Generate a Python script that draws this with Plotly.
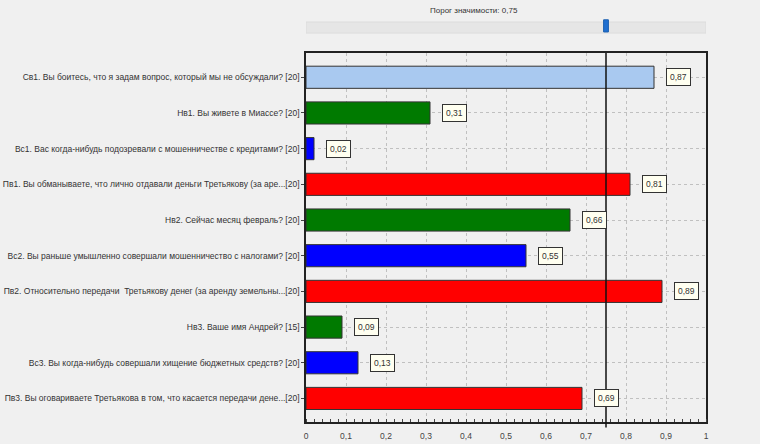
import plotly.graph_objects as go

categories = [
    "Св1. Вы боитесь, что я задам вопрос, который мы не обсуждали? [20]",
    "Нв1. Вы живете в Миассе? [20]",
    "Вс1. Вас когда-нибудь подозревали с мошенничестве с кредитами? [20]",
    "Пв1. Вы обманываете, что лично отдавали деньги Третьякову (за аре...[20]",
    "Нв2. Сейчас месяц февраль? [20]",
    "Вс2. Вы раньше умышленно совершали мошенничество с налогами? [20]",
    "Пв2. Относительно передачи  Третьякову денег (за аренду земельны...[20]",
    "Нв3. Ваше имя Андрей? [15]",
    "Вс3. Вы когда-нибудь совершали хищение бюджетных средств? [20]",
    "Пв3. Вы оговариваете Третьякова в том, что касается передачи дене...[20]",
]
values = [0.87, 0.31, 0.02, 0.81, 0.66, 0.55, 0.89, 0.09, 0.13, 0.69]
value_labels = ["0,87", "0,31", "0,02", "0,81", "0,66", "0,55", "0,89", "0,09", "0,13", "0,69"]
bar_colors = ["#a9c9f0", "#007a00", "#0000ff", "#ff0000", "#007a00",
              "#0000ff", "#ff0000", "#007a00", "#0000ff", "#ff0000"]
threshold = 0.75
threshold_label = "Порог значимости: 0,75"
x_tickvals = [0, 0.1, 0.2, 0.3, 0.4, 0.5, 0.6, 0.7, 0.8, 0.9, 1.0]
x_ticktext = ["0", "0,1", "0,2", "0,3", "0,4", "0,5", "0,6", "0,7", "0,8", "0,9", "1"]

FONT = "Liberation Sans"
BG = "#f0f0f0"

fig = go.Figure()
fig.add_trace(go.Bar(
    y=categories, x=values, orientation="h",
    marker=dict(color=bar_colors, line=dict(color="#333333", width=1)),
    width=0.62, hoverinfo="x+y",
))

# value label boxes
for c, v, t in zip(categories, values, value_labels):
    fig.add_annotation(x=v, y=c, xref="x", yref="y", text=t, showarrow=False,
                       xanchor="left", xshift=12,
                       bgcolor="#fffff0", bordercolor="#333333", borderwidth=1,
                       borderpad=3, font=dict(family=FONT, size=8.5, color="#333333"))

# threshold line
fig.add_shape(type="line", xref="x", yref="paper", x0=threshold, x1=threshold,
              y0=-0.015, y1=1, line=dict(color="#111111", width=1.5))

# slider track and handle above the plot
fig.add_shape(type="rect", xref="x", yref="paper", x0=0, x1=1, y0=1.054, y1=1.084,
              fillcolor="#e6e6e6", line=dict(color="#dcdcdc", width=1), layer="above")
fig.add_shape(type="rect", xref="x", yref="paper", x0=threshold - 0.006, x1=threshold + 0.006,
              y0=1.057, y1=1.09, fillcolor="#1f6fd0", line=dict(color="#1a5fb0", width=1),
              layer="above")
fig.add_annotation(x=0.42, y=1.114, xref="x", yref="paper", text=threshold_label,
                   showarrow=False, xanchor="center", yanchor="middle",
                   font=dict(family=FONT, size=8, color="#333333"))

fig.update_layout(
    width=760, height=444,
    margin=dict(l=306, r=54, t=53, b=22, autoexpand=False),
    paper_bgcolor=BG, plot_bgcolor=BG,
    showlegend=False,
    font=dict(family=FONT, size=8.5, color="#333333"),
)
fig.update_xaxes(range=[0, 1], tickvals=x_tickvals, ticktext=x_ticktext,
                 showgrid=True, gridcolor="#c0c0c0", griddash="dot", gridwidth=1,
                 showline=True, linecolor="#222222", linewidth=1.5, mirror=True,
                 ticks="", zeroline=False, ticklabelstandoff=5, automargin=False,
                 minor=dict(ticks="inside", dtick=0.02, ticklen=3, tickcolor="#444444", showgrid=False),
                 tickfont=dict(family=FONT, size=8.5, color="#444444"))
fig.update_yaxes(categoryorder="array", categoryarray=categories, autorange=False,
                 range=[9.66, -0.68], automargin=False,
                 showgrid=True, gridcolor="#c0c0c0", griddash="dot", gridwidth=1,
                 showline=True, linecolor="#222222", linewidth=1.5, mirror=True,
                 ticks="outside", ticklen=3, tickcolor="#444444",
                 tickfont=dict(family=FONT, size=8.5, color="#333333"))

fig.write_html("out.html", config={"displayModeBar": False},
               post_script="document.body.style.margin='0';")
